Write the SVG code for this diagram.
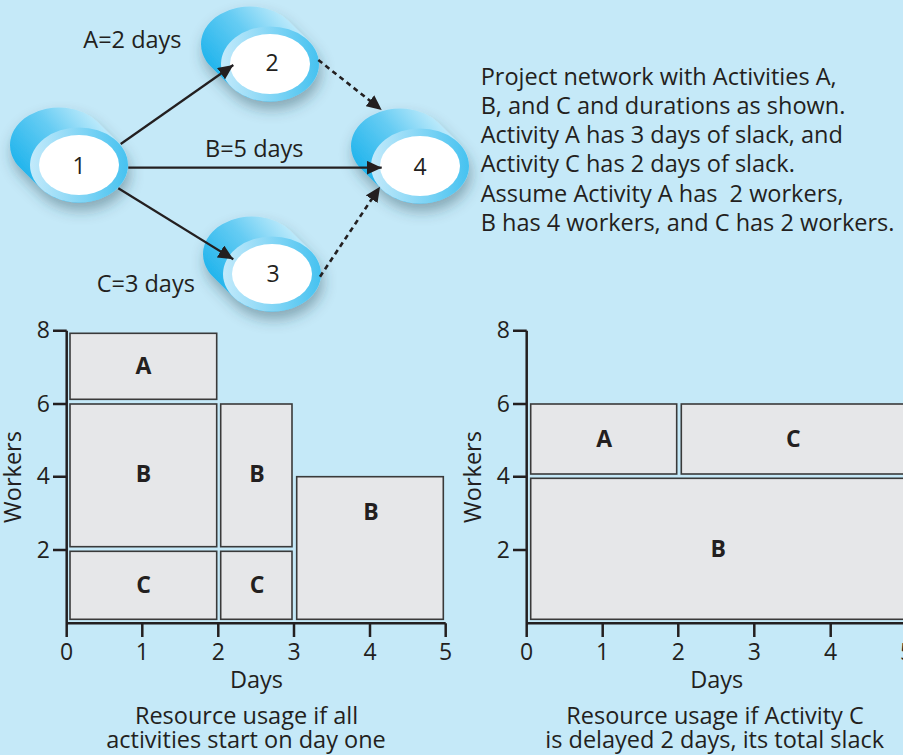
<svg xmlns="http://www.w3.org/2000/svg" width="903" height="755" viewBox="0 0 903 755">
<defs>
<style>
text{font-family:"Open Sans","Noto Sans","DejaVu Sans",sans-serif;fill:#231f20}
.t{font-size:23.5px}
.num{font-size:23px;text-anchor:middle}
.bl{font-size:23px;font-weight:bold;text-anchor:middle}
.tk{font-size:23px;text-anchor:middle}
.tky{font-size:23px;text-anchor:end}
.mid{text-anchor:middle}
.bar{fill:#e6e7e9;stroke:#3a3a3a;stroke-width:1.6}
.ax{fill:none;stroke:#231f20;stroke-width:2.5}
.con{fill:none;stroke:#231f20;stroke-width:2.2}
.dash{stroke-dasharray:5 4;stroke-width:2.6}
.body{fill:url(#gBody)}
.ring{fill:url(#gRing)}
.core{fill:#fff}
</style>
<linearGradient id="gBody" x1="0.05" y1="0.65" x2="0.85" y2="0.1">
<stop offset="0" stop-color="#1db3ec"/>
<stop offset="0.5" stop-color="#66ccf3"/>
<stop offset="1" stop-color="#d4f2fd"/>
</linearGradient>
<linearGradient id="gRing" x1="0" y1="0.5" x2="1" y2="0.5">
<stop offset="0" stop-color="#c3eafb"/>
<stop offset="1" stop-color="#46c2f0"/>
</linearGradient>
<filter id="sh" x="-40%" y="-40%" width="180%" height="190%">
<feDropShadow dx="2" dy="8" stdDeviation="7" flood-color="#2b4250" flood-opacity="0.4"/>
</filter>
<marker id="ah" markerUnits="userSpaceOnUse" markerWidth="16" markerHeight="14" refX="15" refY="7" orient="auto">
<path d="M0,0 L15,7 L0,14 z" fill="#231f20"/>
</marker>
<path id="cyl" d="M18.91,-42.79 A49 37.5 0 0 0 -49.78,-49.78 A49 37.5 0 0 0 -58.91,2.79 L-38.91,22.79 A49 37.5 0 0 0 29.78,29.78 A49 37.5 0 0 0 38.91,-22.79 Z"/>
</defs>
<rect width="903" height="755" fill="#c5e9f8"/>

<g id="node1" transform="translate(79,165)">
<use href="#cyl" class="body" filter="url(#sh)"/>
<ellipse class="ring" rx="49" ry="37.5"/>
<ellipse class="core" cx="0" rx="40" ry="30"/>
<text class="num" x="0" y="8.5">1</text>
</g>
<g id="node2" transform="translate(270,64)">
<use href="#cyl" class="body" filter="url(#sh)"/>
<ellipse class="ring" rx="49" ry="37.5"/>
<ellipse class="core" cx="0" rx="40" ry="30"/>
<text class="num" x="2" y="7">2</text>
</g>
<g id="node3" transform="translate(272,274)">
<use href="#cyl" class="body" filter="url(#sh)"/>
<ellipse class="ring" rx="49" ry="37.5"/>
<ellipse class="core" cx="0" rx="40" ry="30"/>
<text class="num" x="1" y="8">3</text>
</g>
<g id="node4" transform="translate(420,166)">
<use href="#cyl" class="body" filter="url(#sh)"/>
<ellipse class="ring" rx="49" ry="37.5"/>
<ellipse class="core" cx="0" rx="40" ry="30"/>
<text class="num" x="0" y="9">4</text>
</g>

<g id="connectors">
<line class="con" x1="120.7" y1="144" x2="233.3" y2="65" marker-end="url(#ah)"/>
<line class="con" x1="128.3" y1="167.7" x2="381.7" y2="167.7" marker-end="url(#ah)"/>
<line class="con" x1="118.3" y1="188.3" x2="233.3" y2="259.3" marker-end="url(#ah)"/>
<line class="con dash" x1="318.3" y1="60" x2="381.7" y2="110" marker-end="url(#ah)"/>
<line class="con dash" x1="320" y1="276.7" x2="380" y2="186.7" marker-end="url(#ah)"/>
<text class="t" x="83.3" y="48.3">A=2 days</text>
<text class="t" x="205" y="157.3">B=5 days</text>
<text class="t" x="96.7" y="291.7">C=3 days</text>
</g>

<g id="description">
<text class="t" x="480.7" y="85">Project network with Activities A,</text>
<text class="t" x="480.7" y="114">B, and C and durations as shown.</text>
<text class="t" x="480.7" y="143">Activity A has 3 days of slack, and</text>
<text class="t" x="480.7" y="172">Activity C has 2 days of slack.</text>
<text class="t" x="480.7" y="201.5" xml:space="preserve">Assume Activity A has  2 workers,</text>
<text class="t" x="480.7" y="231">B has 4 workers, and C has 2 workers.</text>
</g>

<g id="chart-left">
<rect class="bar" x="70" y="333.3" width="146.7" height="66"/>
<rect class="bar" x="70" y="404" width="146.7" height="142.7"/>
<rect class="bar" x="70" y="551.3" width="146.7" height="68"/>
<rect class="bar" x="220.7" y="404" width="71.3" height="142.7"/>
<rect class="bar" x="220.7" y="551.3" width="71.3" height="68"/>
<rect class="bar" x="296.7" y="476.7" width="146.6" height="142.6"/>
<path class="ax" d="M66.7,330.7 V623.3 H445.7 M53,330.7 H66.7 M53,404 H66.7 M53,476.7 H66.7 M53,550 H66.7 M66.7,623.3 V637 M142.3,623.3 V637 M218.3,623.3 V637 M294,623.3 V637 M370,623.3 V637 M445.7,623.3 V637"/>
<text class="bl" x="143.5" y="374">A</text>
<text class="bl" x="143.5" y="482">B</text>
<text class="bl" x="257" y="482">B</text>
<text class="bl" x="371" y="519.5">B</text>
<text class="bl" x="143.5" y="593">C</text>
<text class="bl" x="257" y="593">C</text>
<text class="tky" x="50" y="338.3">8</text>
<text class="tky" x="50" y="411.7">6</text>
<text class="tky" x="50" y="484">4</text>
<text class="tky" x="50" y="557.5">2</text>
<text class="tk" x="66.7" y="660">0</text>
<text class="tk" x="142.3" y="660">1</text>
<text class="tk" x="218.3" y="660">2</text>
<text class="tk" x="294" y="660">3</text>
<text class="tk" x="370" y="660">4</text>
<text class="tk" x="445.7" y="660">5</text>
<text class="t mid" x="256.5" y="687.7">Days</text>
<text class="t mid" transform="translate(21,477) rotate(-90)">Workers</text>
<text class="t mid" x="246.5" y="724.3">Resource usage if all</text>
<text class="t mid" x="246" y="748.3">activities start on day one</text>
</g>

<g id="chart-right">
<rect class="bar" x="530.7" y="404" width="146" height="70"/>
<rect class="bar" x="681.3" y="404" width="240" height="70"/>
<rect class="bar" x="530.7" y="478.3" width="390" height="141"/>
<path class="ax" d="M526.7,330.7 V623.3 H910 M513,330.7 H526.7 M513,404 H526.7 M513,476.7 H526.7 M513,550 H526.7 M526.7,623.3 V637 M602.7,623.3 V637 M678.3,623.3 V637 M754.3,623.3 V637 M830.7,623.3 V637 M906.5,623.3 V637"/>
<text class="bl" x="604.3" y="447">A</text>
<text class="bl" x="793.3" y="447">C</text>
<text class="bl" x="718.3" y="557">B</text>
<text class="tky" x="510" y="338.3">8</text>
<text class="tky" x="510" y="411.7">6</text>
<text class="tky" x="510" y="484">4</text>
<text class="tky" x="510" y="557.5">2</text>
<text class="tk" x="526.7" y="660">0</text>
<text class="tk" x="602.7" y="660">1</text>
<text class="tk" x="678.3" y="660">2</text>
<text class="tk" x="754.3" y="660">3</text>
<text class="tk" x="830.7" y="660">4</text>
<text class="tk" x="906.5" y="660">5</text>
<text class="t mid" x="716.7" y="687.7">Days</text>
<text class="t mid" transform="translate(481,477) rotate(-90)">Workers</text>
<text class="t mid" x="715" y="724.3">Resource usage if Activity C</text>
<text class="t mid" x="714.7" y="748.3">is delayed 2 days, its total slack</text>
</g>
</svg>
